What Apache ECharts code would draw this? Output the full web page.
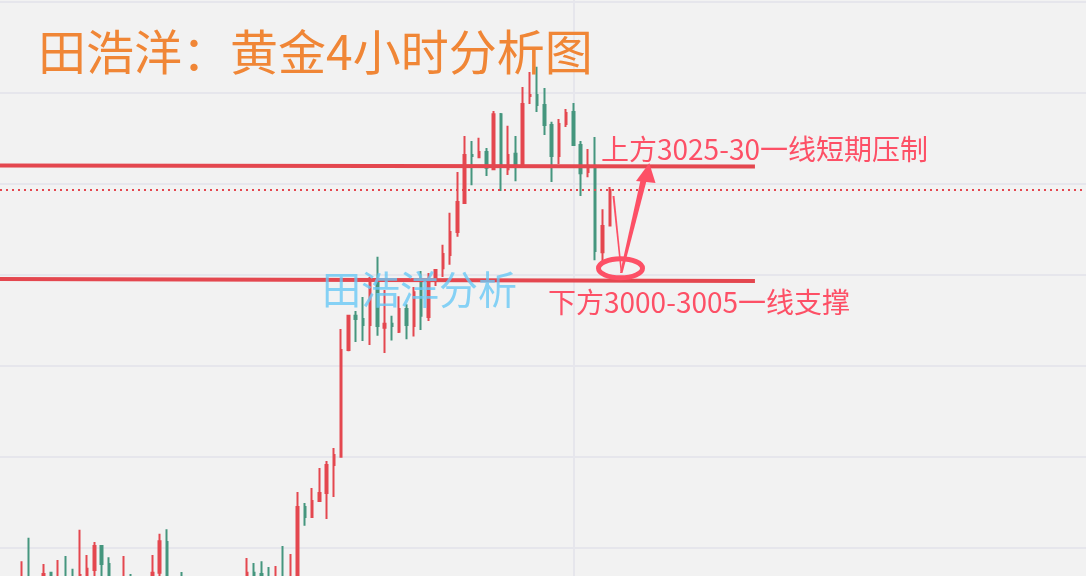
<!DOCTYPE html>
<html><head><meta charset="utf-8">
<script src="https://cdn.jsdelivr.net/npm/echarts@6/dist/echarts.min.js"></script>
<style>html,body{margin:0;padding:0;background:#f2f2f2;}#c{width:1086px;height:576px;}</style>
</head><body><div id="c"></div><script>
// ---- data (4H gold candles) ----
const openP  = [2908,2915,2909,2911,2918.1,2910,2916,2914,2912,2917.5,2918.9,2925.5,2920.5,2915,2910,2915,2911,2908,2912,2918.1,2926.6,2914,2914,2909,2905,2902,2906,2903,2907,2904,2908,2912,2918.1,2917.8,2914,2910,2915,2911,2912,2936.2,2933.4,2937.8,2940.0,2947.7,2950.0,2979.3,2988.7,2987.8,2986.2,2998.0,2985.4,2986.5,2984.3,2990.6,2985.9,2998.5,2988.4,2998.5,3001.8,3005.4,3011.7,3019.7,3032.9,3032.3,3033.7,3029.0,3044.1,3029.0,3033.2,3029.9,3049.1,3049.4,3046.6,3041.1,3032.6,3041.4,3044.7,3035.6,3028.2,3029.9,3006.2,3013.5];
const closeP = [2914,2909,2912,2917.8,2913,2915,2911,2909,2917.5,2919.2,2925.5,2920.5,2915,2912,2914,2911,2908,2912,2918.1,2926.8,2914,2910,2909,2905,2902,2906,2903,2907,2904,2908,2910,2918.1,2917.5,2913,2910,2915,2911,2916,2936.2,2933.4,2937.8,2940.0,2947.7,2950.5,2979.3,2988.7,2987.8,2986.2,2998.0,2985.9,2986.5,2985.9,2990.6,2986.2,2995.2,2988.7,2998.5,3001.3,3005.7,3011.7,3020.0,3032.9,3032.6,3033.7,3029.4,3044.1,3030.1,3032.9,3029.9,3046.9,3049.4,3046.6,3041.1,3032.6,3041.4,3044.4,3035.6,3027.9,3029.9,3006.5,3013.4,3023.3];
const lowP   = [2904,2905,2903,2908,2910,2907,2908,2906,2909,2913,2915,2914,2912,2908,2906,2908,2904,2905,2909,2914,2911,2906,2905,2900,2896,2898,2899,2900,2901,2902,2905,2908,2912,2910,2907,2907,2908,2908,2909,2931.0,2933.4,2937.7,2932.9,2938.9,2949.9,2979.0,2981.5,2981.8,2980.7,2983.2,2978.5,2981.9,2984.0,2982.3,2983.0,2984.8,2987.3,2996.9,2999.4,3002.7,3010.4,3019.5,3024.6,3032.2,3027.1,3028.9,3023.0,3027.4,3025.7,3029.8,3046.9,3044.7,3038.4,3025.5,3030.4,3040.6,3035.5,3021.6,3026.8,3004.0,3003.2,3013.4];
const highP  = [2921.3,2927.7,2916,2920.5,2918.1,2921.6,2922.7,2919.2,2929.9,2923.0,2926.6,2925.5,2922.4,2916.5,2922.7,2917.8,2915,2916,2923.0,2928.8,2930.1,2916,2918.3,2913,2910,2911,2912,2914,2913,2915,2916,2922.2,2920.8,2921.3,2919.7,2920.0,2925.5,2923.3,2940.3,2937.3,2941.4,2946.9,2948.8,2952.4,2985.1,2988.9,2990.0,2993.9,2999.4,3004.9,2995.8,2988.7,2994.1,2991.9,2996.6,3001.0,3000.5,3001.6,3008.2,3017.0,3028.2,3038.1,3036.7,3037.6,3034.8,3045.0,3044.4,3040.9,3038.1,3051.6,3055.7,3057.1,3051.3,3042.0,3042.8,3045.5,3047.2,3036.7,3034.5,3037.8,3018.0,3024.1];
const resistanceLine = [3030.0, 3029.7];   // hand-drawn level, left / right end
const supportLine    = [2998.8, 2998.3];
const yRange = { min: 2900, max: 3100, interval: 25 };
const titleText = '田浩洋：黄金4小时分析图';
const watermarkText = '田浩洋分析';
const upperNote = '上方3025-30一线短期压制';
const lowerNote = '下方3000-3005一线支撑';

// ---- categories: 4H bars, weekdays only ----
const leadBars = 3, totalBars = 151;
const categories = [];
{
  let t = Date.UTC(2025, 2, 4, 12, 0);
  while (categories.length < totalBars) {
    const d = new Date(t);
    const wd = d.getUTCDay();
    if (wd !== 0 && wd !== 6) {
      const p = n => String(n).padStart(2, '0');
      categories.push(p(d.getUTCMonth() + 1) + '-' + p(d.getUTCDate()) + ' ' + p(d.getUTCHours()) + ':00');
    }
    t += 4 * 3600 * 1000;
  }
}
const candleData = [];
for (let i = 0; i < leadBars; i++) candleData.push('-');
for (let i = 0; i < openP.length; i++) candleData.push([openP[i], closeP[i], lowP[i], highP[i]]);
const lastClose = closeP[closeP.length - 1];

const RED = '#e4474f', GREEN = '#45967e', GRIDC = '#e6e6ec', NOTE = '#fd5066';
const pxPerUnit = 3.64, y3000 = 274.7, step = 7.259;

const chart = echarts.init(document.getElementById('c'), null, { renderer: 'canvas' });
chart.setOption({
  backgroundColor: '#f2f2f2',
  animation: false,
  grid: {
    left: 0,
    width: step * (totalBars - 1),
    top: y3000 - (yRange.max - 3000) * pxPerUnit,
    height: (yRange.max - yRange.min) * pxPerUnit,
    outerBoundsMode: 'none',
    containLabel: false
  },
  xAxis: {
    type: 'category', data: categories, boundaryGap: false,
    axisLine: { show: false }, axisTick: { show: false }, axisLabel: { show: false },
    splitLine: { show: true, interval: (idx) => idx === 79, lineStyle: { color: GRIDC, width: 2 } }
  },
  yAxis: {
    type: 'value', min: yRange.min, max: yRange.max, interval: yRange.interval, scale: true,
    axisLine: { show: false }, axisTick: { show: false }, axisLabel: { show: false },
    splitLine: { show: true, lineStyle: { color: GRIDC, width: 2 } }
  },
  series: [{
    type: 'candlestick',
    data: candleData,
    barWidth: 2,
    clip: true,
    itemStyle: { color: RED, color0: GREEN, borderColor: RED, borderColor0: GREEN, borderWidth: 2 },
    markLine: {
      silent: true, symbol: 'none', label: { show: false },
      data: [
        [{ coord: [categories[0], resistanceLine[0]] }, { coord: [categories[104], resistanceLine[1]] }],
        [{ coord: [categories[0], supportLine[0]] }, { coord: [categories[104], supportLine[1]] }],
        { yAxis: lastClose, lineStyle: { type: [2, 4], width: 2, color: RED } }
      ],
      lineStyle: { color: RED, width: 4, type: 'solid' }
    }
  }],
  graphic: [
    { type: 'text', z: 100, style: { text: titleText, x: 38, y: 52, verticalAlign: 'middle', fill: '#f08636',
      font: '48px "Noto Sans CJK SC"' } },
    { type: 'text', z: 100, style: { text: watermarkText, x: 322, y: 289, verticalAlign: 'middle', fill: 'rgba(105,200,245,0.8)',
      font: '39px "Noto Sans CJK SC"' } },
    { type: 'text', z: 100, style: { text: upperNote, x: 601, y: 149, verticalAlign: 'middle', fill: NOTE,
      font: '28px "Noto Sans CJK SC"' } },
    { type: 'text', z: 100, style: { text: lowerNote, x: 548, y: 302, verticalAlign: 'middle', fill: NOTE,
      font: '28px "Noto Sans CJK SC"' } },
    { type: 'ellipse', z: 100, shape: { cx: 620.5, cy: 268.3, rx: 22, ry: 9.5 }, style: { fill: 'none', stroke: NOTE, lineWidth: 5 } },
    { type: 'polygon', z: 100, shape: { points: [[620, 273], [622.5, 273], [647, 179], [641, 178]] }, style: { fill: NOTE } },
    { type: 'polygon', z: 100, shape: { points: [[649.3, 163], [636, 181], [655.5, 183]] }, style: { fill: NOTE } },
    { type: 'polygon', z: 100, shape: { points: [[612.5, 196], [614.5, 196], [622, 271], [620.5, 271]] }, style: { fill: NOTE } }
  ]
});
</script></body></html>
